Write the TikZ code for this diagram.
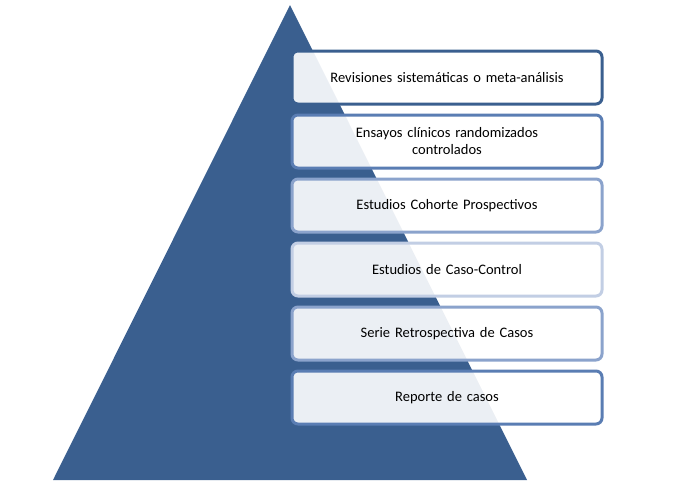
\documentclass[tikz,border=0pt]{standalone}
\usepackage{fontspec}
\setmainfont{Carlito}
\begin{document}
\begin{tikzpicture}[x=1pt,y=-1pt,
 box/.style={draw=#1,line width=3pt,rounded corners=6pt,fill=white,fill opacity=0.9,text opacity=1,
   minimum width=310pt,minimum height=53pt,align=center,font=\fontsize{14.5}{17}\selectfont,text width=290pt}]
\definecolor{tri}{HTML}{3A5F8F}
\definecolor{b1}{HTML}{3A5F8F}
\definecolor{b2}{HTML}{5A7DB3}
\definecolor{b3}{HTML}{8BA3CC}
\definecolor{b4}{HTML}{C2CEE4}
\useasboundingbox (0,0) rectangle (673,480);
\fill[tri] (290,5) -- (527,480) -- (53,480) -- cycle;
\node[box=b1] (n1) at (447,77.5) {Revisiones sistemáticas o meta-análisis};
\node[box=b2] (n2) at (447,141.5) {Ensayos clínicos randomizados\\controlados};
\node[box=b3] (n3) at (447,205.5) {Estudios Cohorte Prospectivos};
\node[box=b4] (n4) at (447,269.5) {Estudios de Caso-Control};
\node[box=b3] (n5) at (447,333.5) {Serie Retrospectiva de Casos};
\node[box=b2] (n6) at (447,397.5) {Reporte de casos};
\end{tikzpicture}
\end{document}
